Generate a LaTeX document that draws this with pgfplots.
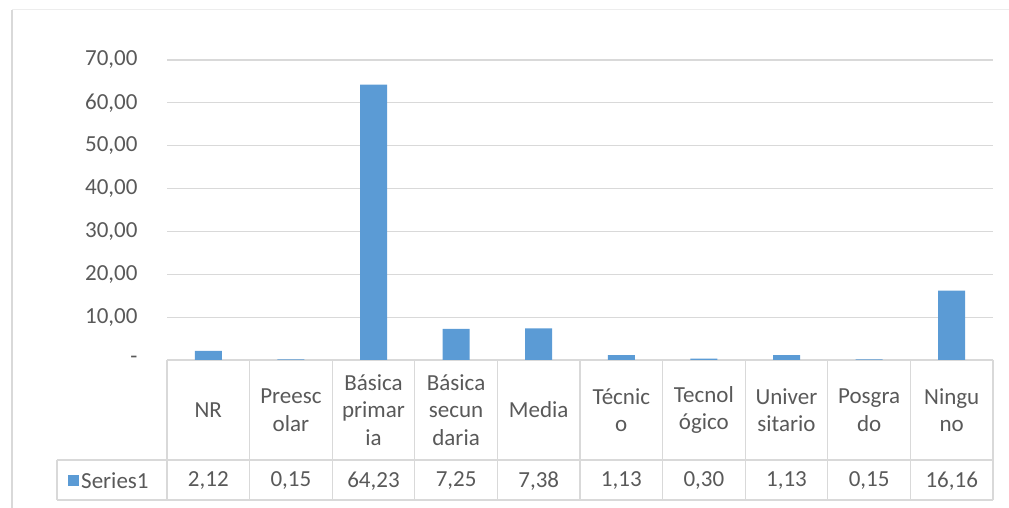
\documentclass[border=0pt]{standalone}
\usepackage{pgfplots}
\pgfplotsset{compat=1.18}
\usepackage{fontspec}
\setmainfont{Carlito}
\definecolor{barblue}{HTML}{5B9BD5}
\definecolor{txt}{HTML}{595959}
\definecolor{gridc}{HTML}{D9D9D9}
\definecolor{framec}{HTML}{EDEDED}
\begin{document}
\begin{tikzpicture}[x=1pt,y=1pt]
\path[use as bounding box] (0,0) rectangle (1009,508);
\draw[framec, line width=1pt] (12,498) -- (1009,498);
\draw[gridc, line width=1.5pt] (12,0) -- (12,498);
\begin{axis}[
  at={(167pt,148pt)}, anchor=south west,
  scale only axis, width=826pt, height=300pt,
  xmin=-0.5, xmax=9.5, ymin=0, ymax=70,
  axis line style={draw=none},
  major tick length=0pt,
  ytick={0,10,...,70},
  yticklabels={{-},{10,00},{20,00},{30,00},{40,00},{50,00},{60,00},{70,00}},
  yticklabel style={anchor=east, xshift=-26pt, text=txt, font=\fontsize{23}{27.5}\selectfont},
  ymajorgrids, grid style={gridc, line width=1.2pt},
  xtick={0,...,9},
  xticklabels={NR,{Preesc\\olar},{Básica\\primar\\ia},{Básica\\secun\\daria},Media,{Técnic\\o},{Tecnol\\ógico},{Univer\\sitario},{Posgra\\do},{Ningu\\no}},
  xticklabel style={align=center, anchor=center, yshift=-50pt, text=txt, font=\fontsize{23}{27.5}\selectfont},
  clip=false,
]
\addplot[ybar, bar width=27pt, bar shift=0pt, fill=barblue, draw=none] coordinates {
  (0,2.12) (1,0.15) (2,64.23) (3,7.25) (4,7.38) (5,1.13) (6,0.30) (7,1.13) (8,0.15) (9,16.16)
};
% data table lines
\pgfplotsinvokeforeach{0,...,10}{
  \draw[gridc, line width=1.2pt] (axis cs:#1-0.5,0) -- ([yshift=-140pt]axis cs:#1-0.5,0);
}
\draw[gridc, line width=1.2pt] ([xshift=-110pt,yshift=-100pt]axis cs:-0.5,0) -- ([yshift=-100pt]axis cs:9.5,0);
\draw[gridc, line width=1.2pt] ([xshift=-110pt,yshift=-140pt]axis cs:-0.5,0) -- ([yshift=-140pt]axis cs:9.5,0);
\draw[gridc, line width=1.2pt] ([xshift=-110pt,yshift=-100pt]axis cs:-0.5,0) -- ([xshift=-110pt,yshift=-140pt]axis cs:-0.5,0);
\fill[barblue] ([xshift=-99pt,yshift=-126pt]axis cs:-0.5,0) rectangle ([xshift=-88pt,yshift=-115pt]axis cs:-0.5,0);
\node[anchor=west, text=txt, font=\fontsize{23}{27.5}\selectfont, inner sep=0pt] at ([xshift=-86pt,yshift=-121pt]axis cs:-0.5,0) {Series1};
\begin{scope}[every node/.style={text=txt, font=\fontsize{23}{27.5}\selectfont}]
\node at ([yshift=-121pt]axis cs:0,0) {2,12};
\node at ([yshift=-121pt]axis cs:1,0) {0,15};
\node at ([yshift=-121pt]axis cs:2,0) {64,23};
\node at ([yshift=-121pt]axis cs:3,0) {7,25};
\node at ([yshift=-121pt]axis cs:4,0) {7,38};
\node at ([yshift=-121pt]axis cs:5,0) {1,13};
\node at ([yshift=-121pt]axis cs:6,0) {0,30};
\node at ([yshift=-121pt]axis cs:7,0) {1,13};
\node at ([yshift=-121pt]axis cs:8,0) {0,15};
\node at ([yshift=-121pt]axis cs:9,0) {16,16};
\end{scope}
\end{axis}
\end{tikzpicture}
\end{document}
